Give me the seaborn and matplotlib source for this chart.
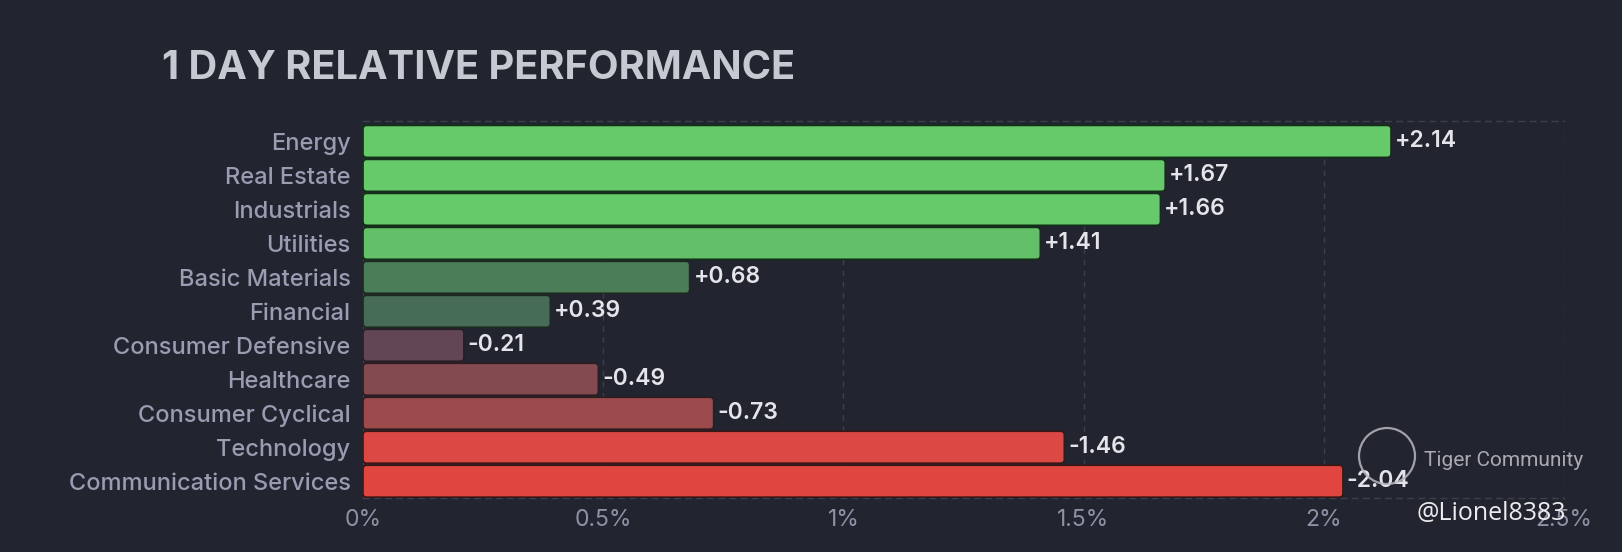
import matplotlib
matplotlib.use("Agg")
import matplotlib.pyplot as plt
import numpy as np
import pandas as pd
import seaborn as sns
from matplotlib.patches import FancyBboxPatch, Ellipse

# sector data (1 day change, %)
sectors = ['Energy', 'Real Estate', 'Industrials', 'Utilities', 'Basic Materials',
           'Financial', 'Consumer Defensive', 'Healthcare', 'Consumer Cyclical',
           'Technology', 'Communication Services']
changes = [2.14, 1.67, 1.66, 1.41, 0.68, 0.39, -0.21, -0.49, -0.73, -1.46, -2.04]
bar_colors = ['#66ca6b', '#66ca6b', '#66ca6b', '#63c068', '#4b7e58', '#466b56',
              '#634653', '#834a50', '#9c4a4c', '#dc4843', '#e0463f']
edge_colors = ['#123016', '#123016', '#123016', '#123016', '#1c2a20', '#1c2a20',
               '#2a1e24', '#2e1c20', '#2e1c20', '#3a1616', '#3a1616']
xticks = [0, 0.5, 1, 1.5, 2, 2.5]
xtick_labels = ['0%', '0.5%', '1%', '1.5%', '2%', '2.5%']

df = pd.DataFrame({'sector': sectors, 'change': changes})
df['size'] = df['change'].abs()
df['label'] = ['%+.2f' % c for c in changes]

bg = '#22252f'
sns.set_theme(style='dark')
plt.rcParams['font.family'] = ['Inter', 'DejaVu Sans']

fig = plt.figure(figsize=(16.22, 5.52), dpi=100, facecolor=bg)
ax = fig.add_axes([0.2238, 0.0987, 0.7404, 0.6821], facecolor=bg)

sns.barplot(data=df, x='size', y='sector', hue='sector', palette=bar_colors,
            legend=False, orient='h', width=0.94, saturation=1, ax=ax)

# swap plain rectangles for slightly rounded ones
for p, ec in zip(list(ax.patches), edge_colors):
    x, y = p.get_x(), p.get_y()
    w, h = p.get_width(), p.get_height()
    fc = p.get_facecolor()
    p.remove()
    rb = FancyBboxPatch((x, y), w, h, boxstyle='round,pad=0,rounding_size=0.008',
                        mutation_aspect=14, facecolor=fc, edgecolor=ec,
                        linewidth=1.2, zorder=3)
    ax.add_patch(rb)

for i, row in df.iterrows():
    ax.text(row['size'] + 0.008, i, row['label'], va='center', ha='left',
            fontsize=16.5, color='#e4e5ea', fontweight='semibold', zorder=4)

ax.set_xlim(0, 2.5)
ax.set_ylim(10.48, -0.6)
ax.set_xticks(xticks)
ax.set_xticklabels(xtick_labels)
ax.set_xlabel('')
ax.set_ylabel('')
ax.tick_params(axis='x', colors='#8f92a6', labelsize=16.5, length=0, pad=8)
ax.tick_params(axis='y', colors='#9a9cb2', labelsize=17, length=0, pad=9)
for t in ax.get_yticklabels():
    t.set_fontweight('medium')

ax.grid(axis='x', color='#3c404c', linestyle=(0, (4, 4)), linewidth=1)
ax.grid(axis='y', visible=False)
ax.set_axisbelow(True)
for s in ['left', 'right']:
    ax.spines[s].set_visible(False)
for s in ['top', 'bottom']:
    ax.spines[s].set_visible(True)
    ax.spines[s].set_color('#3c404c')
    ax.spines[s].set_linestyle((0, (4, 4)))
    ax.spines[s].set_linewidth(1)

fig.text(0.0999, 0.856, '1 DAY RELATIVE PERFORMANCE', fontsize=28.6, fontweight='bold',
         color='#c6c9d2', ha='left', va='baseline')

# watermark
fig.patches.append(Ellipse((1387 / 1622, 1 - 456 / 552), 56 / 1622, 56 / 552,
                           transform=fig.transFigure, facecolor='none',
                           edgecolor='#b8b8c0', linewidth=1.6, alpha=0.85, zorder=5))
fig.text(1424 / 1622, 1 - 461 / 552, 'Tiger Community', fontsize=15, color='#a8a9b2',
         ha='left', va='center', family=['Roboto', 'DejaVu Sans'])
fig.text(1417 / 1622, 1 - 514 / 552, '@Lionel8383', fontsize=18, color='#ececf0',
         ha='left', va='center', family=['Open Sans', 'DejaVu Sans'])

fig.savefig('out.png', dpi=100, facecolor=bg)
